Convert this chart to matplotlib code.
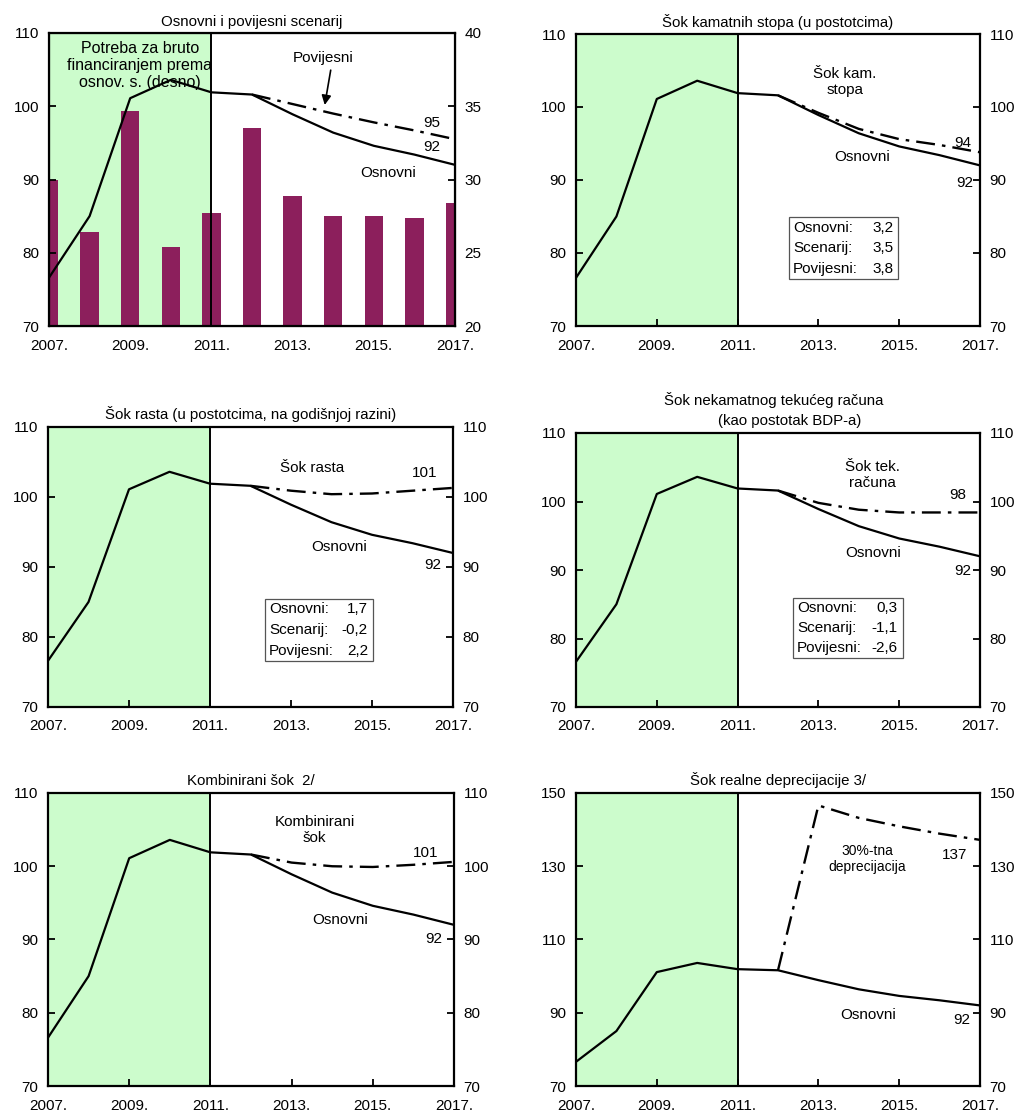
import numpy as np
import matplotlib.pyplot as plt
from matplotlib.patches import Rectangle

plt.rcParams["font.family"] = ["Liberation Sans", "DejaVu Sans"]

years = list(range(2007, 2018))
shock_years = list(range(2012, 2018))
tick_years = [2007, 2009, 2011, 2013, 2015, 2017]
tick_labels = ["2007.", "2009.", "2011.", "2013.", "2015.", "2017."]

# osnovni scenarij (lijeva os)
osnovni = [76.6, 85.0, 101.1, 103.6, 101.9, 101.6, 98.9, 96.4, 94.6, 93.4, 92.0]
# potreba za bruto financiranjem (desna os)
potreba = [30.0, 26.4, 34.7, 25.4, 27.7, 33.5, 28.9, 27.5, 27.5, 27.4, 28.4]

# scenariji sokova, 2012.-2017.
povijesni = [101.6, 100.3, 99.0, 97.8, 96.7, 95.5]
kamatni = [101.6, 99.2, 97.0, 95.6, 94.8, 93.8]
rast = [101.6, 100.9, 100.4, 100.5, 100.9, 101.3]
tekuci = [101.6, 99.8, 98.8, 98.4, 98.4, 98.4]
kombinirani = [101.6, 100.5, 100.0, 99.9, 100.2, 100.6]
deprecijacija = [101.6, 146.6, 143.2, 140.9, 138.9, 137.2]

# tablice u okvirima
box_labels = ["Osnovni:", "Scenarij:", "Povijesni:"]
kamatni_box = ["3,2", "3,5", "3,8"]
rast_box = ["1,7", "-0,2", "2,2"]
tekuci_box = ["0,3", "-1,1", "-2,6"]

GREEN = "#ccfccc"
BAR = "#8c1f5c"
DASHDOT = (0, (8, 3, 1.5, 3))
FS = 11
TFS = 10.8


def W(px):
    return px / 1021


def H(px):
    return px / 1119


def make_ax(fig, left, right, top, bottom):
    return fig.add_axes([W(left), 1 - H(bottom), W(right - left), H(bottom - top)])


def style(ax, ylim, yticks):
    ax.set_xlim(2007, 2017)
    ax.set_ylim(*ylim)
    ax.set_yticks(yticks)
    ax.set_xticks(tick_years)
    ax.set_xticklabels(tick_labels, fontsize=FS)
    ax.tick_params(axis="both", direction="in", length=5, width=1.3, labelsize=FS)
    ax.tick_params(axis="y", left=True, right=True, labelleft=True, labelright=True, pad=7)
    ax.tick_params(axis="x", pad=9)
    for s in ax.spines.values():
        s.set_linewidth(1.6)


def base(ax):
    ax.axvspan(2007, 2011, color=GREEN, zorder=0, lw=0)
    ax.axvline(2011, color="black", lw=1.4, zorder=3)
    ax.plot(years, osnovni, color="black", lw=1.6, zorder=4)


def box(ax, x0, x1, ytop, ybot, values):
    ax.add_patch(Rectangle((x0, ybot), x1 - x0, ytop - ybot, fill=False,
                           edgecolor="#555555", lw=0.9, zorder=5))
    step = (ytop - ybot) / 3
    for i, (lab, val) in enumerate(zip(box_labels, values)):
        yy = ytop - step * (i + 0.5)
        ax.text(x0 + 0.1, yy, lab, ha="left", va="center", fontsize=FS, zorder=6)
        ax.text(x1 - 0.12, yy, val, ha="right", va="center", fontsize=FS, zorder=6)


fig = plt.figure(figsize=(10.21, 11.19), dpi=100)

# --- Osnovni i povijesni scenarij ---
axb = make_ax(fig, 49, 455, 33, 326)
axl = axb.twinx()
axb.axvspan(2007, 2011, color=GREEN, zorder=0, lw=0)
axb.bar(years, potreba, width=0.45, color=BAR, zorder=2)
style(axb, (20, 40), [20, 25, 30, 35, 40])
axb.tick_params(axis="y", left=False, labelleft=False, right=True, labelright=True)
axl.set_ylim(70, 110)
axl.set_yticks([70, 80, 90, 100, 110])
axl.tick_params(axis="y", direction="in", length=5, width=1.3, labelsize=FS,
                left=True, right=False, labelleft=True, labelright=False, pad=7)
axl.axvline(2011, color="black", lw=1.4)
axl.plot(years, osnovni, color="black", lw=1.6)
axl.plot(shock_years, povijesni, color="black", lw=1.7, linestyle=DASHDOT)
axb.set_title("Osnovni i povijesni scenarij", fontsize=TFS, pad=5)
axl.text(2009.24, 108.9, "Potreba za bruto\nfinanciranjem prema\nosnov. s. (desno)",
         ha="center", va="top", fontsize=11.5, linespacing=1.15)
axl.text(2013.75, 106.6, "Povijesni", ha="center", va="center", fontsize=FS)
axl.annotate("", xy=(2013.78, 99.8), xytext=(2013.95, 105.3),
             arrowprops=dict(arrowstyle="-|>", color="black", lw=1.2, mutation_scale=14))
axl.text(2016.43, 97.7, "95", ha="center", va="center", fontsize=FS)
axl.text(2016.43, 94.4, "92", ha="center", va="center", fontsize=FS)
axl.text(2015.35, 90.9, "Osnovni", ha="center", va="center", fontsize=FS)

# --- Sok kamatnih stopa ---
ax = make_ax(fig, 576, 980, 34, 326)
base(ax)
ax.plot(shock_years, kamatni, color="black", lw=1.7, linestyle=DASHDOT, zorder=4)
style(ax, (70, 110), [70, 80, 90, 100, 110])
ax.set_title("Šok kamatnih stopa (u postotcima)", fontsize=TFS, pad=5)
ax.text(2013.66, 103.4, "Šok kam.\nstopa", ha="center", va="center", fontsize=FS)
ax.text(2016.58, 95.1, "94", ha="center", va="center", fontsize=FS)
ax.text(2014.08, 93.2, "Osnovni", ha="center", va="center", fontsize=FS)
ax.text(2016.63, 89.6, "92", ha="center", va="center", fontsize=FS)
box(ax, 2012.27, 2014.97, 84.9, 76.4, kamatni_box)

# --- Sok rasta ---
ax = make_ax(fig, 48, 453, 427, 707)
base(ax)
ax.plot(shock_years, rast, color="black", lw=1.7, linestyle=DASHDOT, zorder=4)
style(ax, (70, 110), [70, 80, 90, 100, 110])
ax.set_title("Šok rasta (u postotcima, na godišnjoj razini)", fontsize=TFS, pad=6)
ax.text(2013.52, 104.1, "Šok rasta", ha="center", va="center", fontsize=FS)
ax.text(2016.3, 103.4, "101", ha="center", va="center", fontsize=FS)
ax.text(2014.2, 92.9, "Osnovni", ha="center", va="center", fontsize=FS)
ax.text(2016.5, 90.3, "92", ha="center", va="center", fontsize=FS)
box(ax, 2012.36, 2015.02, 85.4, 76.6, rast_box)

# --- Sok nekamatnog tekuceg racuna ---
ax = make_ax(fig, 576, 980, 433, 707)
base(ax)
ax.plot(shock_years, tekuci, color="black", lw=1.7, linestyle=DASHDOT, zorder=4)
style(ax, (70, 110), [70, 80, 90, 100, 110])
ax.text(0.49, 1.12, "Šok nekamatnog tekućeg računa", transform=ax.transAxes,
        ha="center", va="center", fontsize=TFS)
ax.text(0.53, 1.045, "(kao postotak BDP-a)", transform=ax.transAxes,
        ha="center", va="center", fontsize=TFS)
ax.text(2014.33, 103.9, "Šok tek.\nračuna", ha="center", va="center", fontsize=FS)
ax.text(2016.46, 100.9, "98", ha="center", va="center", fontsize=FS)
ax.text(2014.35, 92.5, "Osnovni", ha="center", va="center", fontsize=FS)
ax.text(2016.58, 89.9, "92", ha="center", va="center", fontsize=FS)
box(ax, 2012.37, 2015.09, 85.9, 77.2, tekuci_box)

# --- Kombinirani sok ---
ax = make_ax(fig, 48, 454, 793, 1086)
base(ax)
ax.plot(shock_years, kombinirani, color="black", lw=1.7, linestyle=DASHDOT, zorder=4)
style(ax, (70, 110), [70, 80, 90, 100, 110])
ax.set_title("Kombinirani šok  2/", fontsize=TFS, pad=6)
ax.text(2013.57, 104.9, "Kombinirani\nšok", ha="center", va="center", fontsize=FS)
ax.text(2016.3, 101.8, "101", ha="center", va="center", fontsize=FS)
ax.text(2014.2, 92.7, "Osnovni", ha="center", va="center", fontsize=FS)
ax.text(2016.5, 90.1, "92", ha="center", va="center", fontsize=FS)

# --- Sok realne deprecijacije ---
ax = make_ax(fig, 576, 980, 793, 1086)
base(ax)
ax.plot(shock_years, deprecijacija, color="black", lw=1.7, linestyle=DASHDOT, zorder=4)
style(ax, (70, 150), [70, 90, 110, 130, 150])
ax.set_title("Šok realne deprecijacije 3/", fontsize=TFS, pad=6)
ax.text(2014.2, 132.0, "30%-tna\ndeprecijacija", ha="center", va="center", fontsize=10)
ax.text(2016.38, 133.0, "137", ha="center", va="center", fontsize=FS)
ax.text(2014.23, 89.3, "Osnovni", ha="center", va="center", fontsize=FS)
ax.text(2016.55, 88.0, "92", ha="center", va="center", fontsize=FS)

plt.savefig("out.png", dpi=100)
plt.close()
